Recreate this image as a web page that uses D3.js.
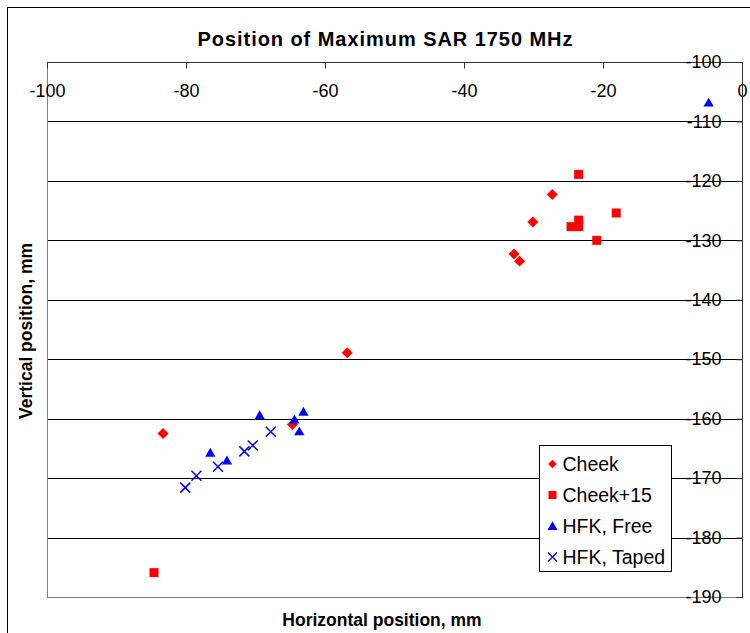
<!DOCTYPE html>
<html lang="en">
<head>
<meta charset="utf-8">
<title>Position of Maximum SAR 1750 MHz</title>
<script src="https://cdn.jsdelivr.net/npm/d3@7"></script>
<style>
  body { margin: 0; background: #fff; }
  text { font-family: "Liberation Sans", Arial, sans-serif; }
</style>
</head>
<body>
<script>
// data
var cheek = [[-27.3, -122.3], [-30.1, -126.9], [-32.8, -132.3], [-32.0, -133.5],
             [-56.8, -148.9], [-83.3, -162.5], [-64.7, -161.0]];
var cheek15 = [[-23.5, -118.9], [-18.1, -125.4], [-24.6, -127.7], [-23.5, -127.7],
               [-23.5, -126.6], [-20.9, -130.0], [-84.6, -185.9]];
var hfkFree = [[-4.8, -107.0], [-69.4, -159.6], [-64.4, -160.3], [-63.1, -159.0],
               [-63.7, -162.3], [-76.5, -165.9], [-74.1, -167.2]];
var hfkTaped = [[-80.1, -171.6], [-78.5, -169.6], [-75.4, -168.1], [-71.6, -165.5],
                [-70.4, -164.5], [-67.8, -162.2]];
var xTicks = [-100, -80, -60, -40, -20, 0];
var yTicks = [-100, -110, -120, -130, -140, -150, -160, -170, -180, -190];
var seriesNames = ["Cheek", "Cheek+15", "HFK, Free", "HFK, Taped"];

var width = 750, height = 633;
var plotLeft = 47, plotRight = 742, plotTop = 62, plotBottom = 597;

var svg = d3.select("body").append("svg")
    .attr("width", width)
    .attr("height", height);

// outer chart border
svg.append("rect")
    .attr("x", 7.5).attr("y", 7.5)
    .attr("width", 760).attr("height", 640)
    .attr("fill", "none").attr("stroke", "#000").attr("stroke-width", 1);

var xscale = d3.scaleLinear().domain([-100, 0]).range([plotLeft, plotRight]);
var yscale = d3.scaleLinear().domain([-100, -190]).range([plotTop, plotBottom]);

// horizontal gridlines
svg.append("g").selectAll("line")
    .data(yTicks.slice(1, -1))
    .enter().append("line")
    .attr("x1", plotLeft).attr("x2", plotRight)
    .attr("y1", function(d) { return Math.round(yscale(d)) + 0.5; })
    .attr("y2", function(d) { return Math.round(yscale(d)) + 0.5; })
    .attr("stroke", "#000");

// plot frame: left and bottom grey
svg.append("line")
    .attr("x1", plotLeft + 0.5).attr("x2", plotLeft + 0.5)
    .attr("y1", plotTop).attr("y2", plotBottom)
    .attr("stroke", "#808080");
svg.append("line")
    .attr("x1", plotLeft).attr("x2", plotRight)
    .attr("y1", plotBottom + 0.5).attr("y2", plotBottom + 0.5)
    .attr("stroke", "#808080");

function fmt(d) { return String(d); }

// x axis on top, ticks pointing down, labels below
var xAxis = d3.axisBottom(xscale)
    .tickValues(xTicks)
    .tickSize(6)
    .tickPadding(16)
    .tickFormat(fmt);

var gx = svg.append("g")
    .attr("class", "xaxis")
    .attr("transform", "translate(0," + (plotTop + 0.5) + ")")
    .call(xAxis);
gx.select(".domain").attr("stroke", "#333").attr("d", "M" + plotLeft + ",0H" + plotRight);
gx.selectAll(".tick line").attr("stroke", "#333");
gx.selectAll(".tick text")
    .attr("font-size", 18)
    .attr("fill", "#000")
    .attr("font-family", "Liberation Sans, Arial, sans-serif");

// y axis on right, ticks and labels inside the plot
var yAxis = d3.axisLeft(yscale)
    .tickValues(yTicks)
    .tickSize(6)
    .tickPadding(15)
    .tickFormat(fmt);

var gy = svg.append("g")
    .attr("class", "yaxis")
    .attr("transform", "translate(" + (plotRight + 0.5) + ",0)")
    .call(yAxis);
gy.select(".domain").attr("stroke", "#333").attr("d", "M0," + plotTop + "V" + (plotBottom + 1));
gy.selectAll(".tick line").attr("stroke", "#333");
gy.selectAll(".tick text")
    .attr("font-size", 18)
    .attr("fill", "#000")
    .attr("font-family", "Liberation Sans, Arial, sans-serif");

// markers
var diamond = d3.symbol().type(d3.symbolSquare).size(60);
var square = d3.symbol().type(d3.symbolSquare).size(81);
var triangle = d3.symbol().type(d3.symbolTriangle).size(46);
function cross(s) { return "M" + (-s) + "," + (-s) + "L" + s + "," + s + "M" + (-s) + "," + s + "L" + s + "," + (-s); }

var plot = svg.append("g");

plot.selectAll(".cheek")
    .data(cheek).enter().append("path")
    .attr("class", "cheek")
    .attr("d", diamond())
    .attr("fill", "#ff0000")
    .attr("transform", function(d) { return "translate(" + xscale(d[0]) + "," + yscale(d[1]) + ") rotate(45)"; });

plot.selectAll(".cheek15")
    .data(cheek15).enter().append("path")
    .attr("class", "cheek15")
    .attr("d", square())
    .attr("fill", "#ff0000")
    .attr("transform", function(d) { return "translate(" + xscale(d[0]) + "," + yscale(d[1]) + ")"; });

plot.selectAll(".free")
    .data(hfkFree).enter().append("path")
    .attr("class", "free")
    .attr("d", triangle())
    .attr("fill", "#0000ff")
    .attr("transform", function(d) { return "translate(" + xscale(d[0]) + "," + yscale(d[1]) + ")"; });

plot.selectAll(".taped")
    .data(hfkTaped).enter().append("path")
    .attr("class", "taped")
    .attr("d", cross(5))
    .attr("fill", "none")
    .attr("stroke", "#0000ff")
    .attr("stroke-width", 1.5)
    .attr("transform", function(d) { return "translate(" + xscale(d[0]) + "," + yscale(d[1]) + ")"; });

// legend
var legend = svg.append("g").attr("transform", "translate(539.5,445.5)");
legend.append("rect")
    .attr("width", 132).attr("height", 126)
    .attr("fill", "#fff").attr("stroke", "#000");

var items = legend.selectAll(".item")
    .data(seriesNames).enter().append("g")
    .attr("class", "item")
    .attr("transform", function(d, i) { return "translate(13," + (18.5 + i * 31) + ")"; });

items.each(function(d, i) {
    var g = d3.select(this);
    if (i === 0) {
        g.append("path").attr("d", d3.symbol().type(d3.symbolSquare).size(38)()).attr("fill", "#ff0000").attr("transform", "rotate(45)");
    } else if (i === 1) {
        g.append("path").attr("d", d3.symbol().type(d3.symbolSquare).size(64)()).attr("fill", "#ff0000");
    } else if (i === 2) {
        g.append("path").attr("d", d3.symbol().type(d3.symbolTriangle).size(44)()).attr("fill", "#0000ff").attr("transform", "translate(0,1)");
    } else {
        g.append("path").attr("d", cross(4.5)).attr("stroke", "#0000ff").attr("stroke-width", 1.3).attr("fill", "none");
    }
});

items.append("text")
    .attr("x", 10)
    .attr("y", 7)
    .attr("font-size", 19.5)
    .text(function(d) { return d; });

// titles
svg.append("text")
    .attr("x", 385).attr("y", 46)
    .attr("text-anchor", "middle")
    .attr("font-size", 20)
    .attr("font-weight", "bold")
    .attr("textLength", 375)
    .attr("lengthAdjust", "spacing")
    .text("Position of Maximum SAR 1750 MHz");

svg.append("text")
    .attr("x", 382).attr("y", 626)
    .attr("text-anchor", "middle")
    .attr("font-size", 17.5)
    .attr("font-weight", "bold")
    .text("Horizontal position, mm");

svg.append("text")
    .attr("transform", "translate(32,331) rotate(-90)")
    .attr("text-anchor", "middle")
    .attr("font-size", 17.5)
    .attr("font-weight", "bold")
    .text("Vertical position, mm");
</script>
</body>
</html>
